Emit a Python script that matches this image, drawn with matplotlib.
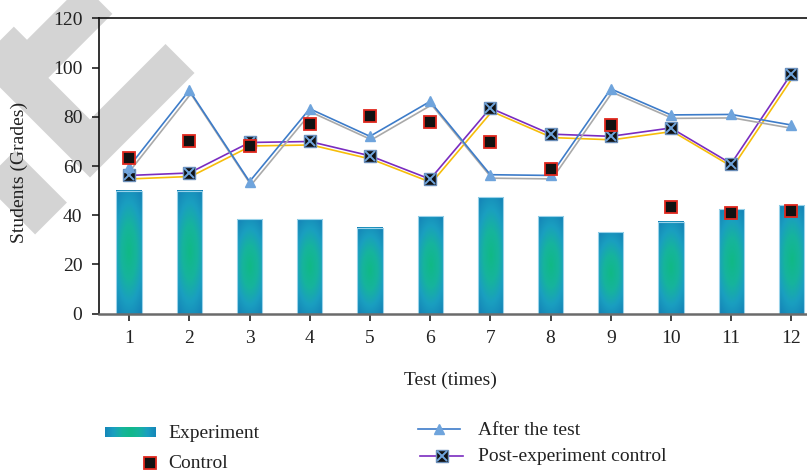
import numpy as np
import matplotlib
matplotlib.use("Agg")
import matplotlib.pyplot as plt
from matplotlib.lines import Line2D
from matplotlib.colors import LinearSegmentedColormap
import matplotlib.patheffects as pe

# data
tests = np.arange(1, 13)
experiment = [50.0, 50.0, 38.5, 38.5, 35.0, 39.8, 47.5, 39.7, 33.3, 37.4, 42.5, 44.0]
control = [63.3, 70.0, 68.3, 77.2, 80.2, 77.8, 69.6, 58.9, 76.8, 43.4, 41.1, 41.7]
after_test = [59.8, 90.8, 53.7, 83.3, 72.1, 86.3, 56.5, 56.2, 91.4, 80.8, 81.0, 76.7]
post_control = [56.2, 57.2, 69.6, 70.0, 64.2, 54.7, 83.6, 73.0, 72.1, 75.5, 61.0, 97.6]
yticks = [0, 20, 40, 60, 80, 100, 120]

W, H = 807, 473
plt.rcParams['font.family'] = ['Liberation Serif', 'DejaVu Serif']
plt.rcParams['font.size'] = 14

fig = plt.figure(figsize=(W / 100, H / 100), dpi=100)
fig.patch.set_facecolor('white')


def px(x, y):
    return x / W, 1 - y / H


# watermark chevrons behind everything
marks = [
    ([(-40, 2.5), (27, 69.5), (102, -5.5)], 42),
    ([(-40, 18.5), (90, 148.5), (180, 58.5)], 41),
    ([(-60, 107.5), (51, 218.5)], 45),
    ([(170, -98), (253, -15), (336, -98)], 41),
]
for pts, t in marks:
    xs, ys = zip(*[px(a, b) for a, b in pts])
    fig.add_artist(Line2D(xs, ys, transform=fig.transFigure, lw=t * 0.72,
                          color='#d4d4d4', solid_capstyle='butt',
                          solid_joinstyle='miter', zorder=-1))

ax = fig.add_axes([99 / W, (H - 313.7) / H, 722.5 / W, 295.2 / H])
ax.set_facecolor('none')

# gradient colormap for bars
grad = LinearSegmentedColormap.from_list(
    'grad', [(0.0, '#10b985'), (0.35, '#16b49c'), (0.65, '#1a9fc0'), (1.0, '#1480b6')])
nx_, ny_ = 24, 80
gx, gy = np.meshgrid(np.linspace(-1, 1, nx_), np.linspace(-1, 1, ny_))
gz = np.sqrt(0.55 * gx ** 2 + gy ** 2)

bw = 0.42
for xi, h in zip(tests, experiment):
    ax.imshow(gz, extent=(xi - bw / 2, xi + bw / 2, 0, h), cmap=grad, vmin=0, vmax=1.25,
              aspect='auto', origin='lower', interpolation='bilinear', zorder=1)
ax.bar(tests, experiment, width=bw, facecolor='none', edgecolor='#9ad3ea', lw=0.8, zorder=1.5)

shadow_off = (1.1, -2.5)
ax.plot(tests, post_control, color='#7a2cc0', lw=1.2, zorder=3,
        path_effects=[pe.SimpleLineShadow(offset=shadow_off, shadow_color='#f6bd0a', alpha=1),
                      pe.Normal()])
ax.plot(tests, post_control, ls='none', marker='s', ms=8.5, mfc='#111111', mec='#6a8db8',
        mew=1.0, zorder=4)
ax.plot(tests, post_control, ls='none', marker='x', ms=7, mec='#6fa4dc', mew=1.4, zorder=4.1)

ax.plot(tests, after_test, color='#3d7cc9', lw=1.2, zorder=5,
        path_effects=[pe.SimpleLineShadow(offset=shadow_off, shadow_color='#a9a9a9', alpha=1),
                      pe.Normal()])
ax.plot(tests, after_test, ls='none', marker='^', ms=6.5, mfc='#6fa4dc', mec='#6fa4dc', zorder=5.1)

ax.plot(tests, control, ls='none', marker='s', ms=8, mfc='#111111', mec='#e0281e',
        mew=1.3, zorder=6)

ax.set_xlim(0.5, 12.5)
ax.set_ylim(0, 120)
ax.set_xticks(tests)
ax.set_yticks(yticks)
ax.tick_params(direction='out', length=5, width=1.2, pad=7, colors='#222222')
for s in ['left', 'top', 'right']:
    ax.spines[s].set_color('#111111')
    ax.spines[s].set_linewidth(1.2)
ax.spines['bottom'].set_color('#6b6b6b')
ax.spines['bottom'].set_linewidth(1.8)

ax.set_xlabel('Test (times)', color='#222222')
ax.xaxis.set_label_coords((450 - 99) / 722.5, (313.7 - 372) / 295.2)
ax.xaxis.label.set_va('top')
ax.set_ylabel('Students (Grades)', color='#222222')
ax.yaxis.set_label_coords((28 - 99) / 722.5, 0.48)

# manual legend
lax = fig.add_axes([105 / W, (H - 437) / H, 51 / W, 10 / H])
lx = np.linspace(-1, 1, 60)
lax.imshow(np.abs(lx)[None, :] * 1.05 + 0.1, cmap=grad, vmin=0, vmax=1.25,
           aspect='auto', interpolation='bilinear')
lax.axis('off')

x0, y0 = px(150, 463)
fig.add_artist(Line2D([x0], [y0], transform=fig.transFigure, ls='none', marker='s', ms=8,
                      mfc='#111111', mec='#e0281e', mew=1.3))

xa, ya = px(418, 429)
xb, _ = px(460, 429)
fig.add_artist(Line2D([xa, xb], [ya, ya], transform=fig.transFigure, color='#3d7cc9', lw=1.2))
fig.add_artist(Line2D([(xa + xb) / 2], [ya], transform=fig.transFigure, ls='none',
                      marker='^', ms=6.5, mfc='#6fa4dc', mec='#6fa4dc'))

xa, ya = px(420, 456)
xb, _ = px(463, 456)
fig.add_artist(Line2D([xa, xb], [ya, ya], transform=fig.transFigure, color='#7a2cc0', lw=1.2))
fig.add_artist(Line2D([(xa + xb) / 2], [ya], transform=fig.transFigure, ls='none',
                      marker='s', ms=8.5, mfc='#111111', mec='#6a8db8', mew=1.0))
fig.add_artist(Line2D([(xa + xb) / 2], [ya], transform=fig.transFigure, ls='none',
                      marker='x', ms=7, mec='#6fa4dc', mew=1.4))

labels = [('Experiment', 168, 438), ('Control', 168, 468),
          ('After the test', 478, 435), ('Post-experiment control', 478, 461)]
for txt, x, y in labels:
    fx, fy = px(x, y)
    fig.text(fx, fy, txt, ha='left', va='baseline', color='#222222')

fig.savefig('out.png', dpi=100)
